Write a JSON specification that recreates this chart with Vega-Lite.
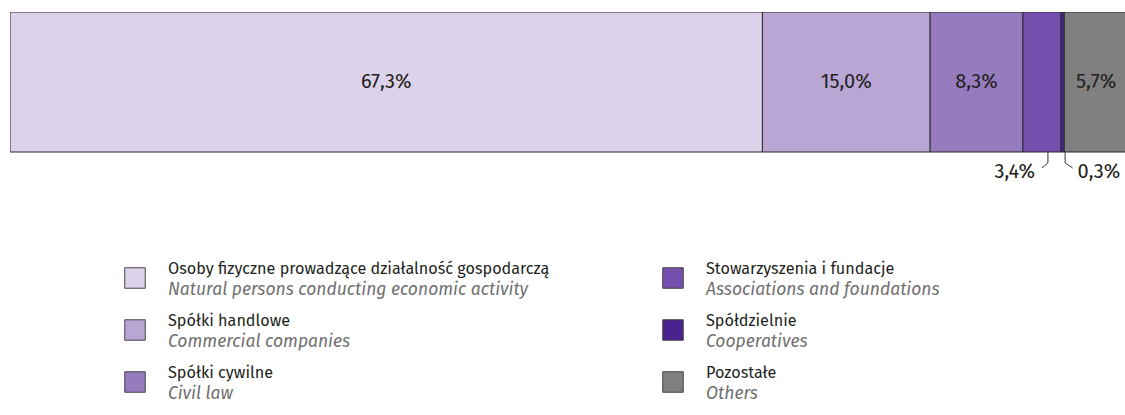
{
  "$schema": "https://vega.github.io/schema/vega-lite/v6.json",
  "padding": {"left": 10, "top": 12, "right": 0, "bottom": 0},
  "background": "white",
  "config": {"view": {"stroke": null}, "font": "Fira Sans, Roboto"},
  "bounds": "flush",
  "spacing": 63,
  "datasets": {
    "shares": [
      {"order": 1, "category": "Osoby fizyczne prowadzące działalność gospodarczą", "english": "Natural persons conducting economic activity", "share": 67.3, "label": "67,3%", "col": 1, "row": 1},
      {"order": 2, "category": "Spółki handlowe", "english": "Commercial companies", "share": 15.0, "label": "15,0%", "col": 1, "row": 2},
      {"order": 3, "category": "Spółki cywilne", "english": "Civil law", "share": 8.3, "label": "8,3%", "col": 1, "row": 3},
      {"order": 4, "category": "Stowarzyszenia i fundacje", "english": "Associations and foundations", "share": 3.4, "label": "3,4%", "col": 2, "row": 1},
      {"order": 5, "category": "Spółdzielnie", "english": "Cooperatives", "share": 0.3, "label": "0,3%", "col": 2, "row": 2},
      {"order": 6, "category": "Pozostałe", "english": "Others", "share": 5.7, "label": "5,7%", "col": 2, "row": 3}
    ]
  },
  "vconcat": [
    {
      "width": 1115,
      "height": 175,
      "data": {"name": "shares"},
      "transform": [
        {"stack": "share", "groupby": [], "sort": [{"field": "order", "order": "ascending"}], "as": ["v0", "v1"]},
        {"calculate": "(datum.v0 + datum.v1) / 2", "as": "mid"}
      ],
      "layer": [
        {
          "mark": {"type": "bar", "stroke": "#2b2b2b", "strokeWidth": 1, "clip": true},
          "encoding": {
            "x": {"field": "v0", "type": "quantitative", "scale": {"domain": [0, 99.73], "nice": false, "zero": false}, "axis": null},
            "x2": {"field": "v1"},
            "y": {"datum": 0, "type": "quantitative", "scale": {"domain": [-0.25, 1], "nice": false, "zero": false}, "axis": null},
            "y2": {"datum": 1},
            "color": {
              "field": "category", "type": "nominal", "legend": null,
              "scale": {
                "domain": ["Osoby fizyczne prowadzące działalność gospodarczą", "Spółki handlowe", "Spółki cywilne", "Stowarzyszenia i fundacje", "Spółdzielnie", "Pozostałe"],
                "range": ["#dcd3ea", "#b9a6d4", "#967bbe", "#744fae", "#4b2391", "#808080"]
              }
            }
          }
        },
        {
          "transform": [{"filter": "datum.share >= 5"}],
          "mark": {"type": "text", "fontSize": 20, "color": "#231f20", "baseline": "middle"},
          "encoding": {
            "x": {"field": "mid", "type": "quantitative"},
            "y": {"datum": 0.5, "type": "quantitative"},
            "text": {"field": "label"}
          }
        },
        {
          "transform": [{"filter": "datum.order == 4"}],
          "mark": {"type": "rule", "color": "#333", "strokeWidth": 1, "xOffset": 6},
          "encoding": {
            "x": {"field": "mid", "type": "quantitative"},
            "y": {"datum": 0, "type": "quantitative"},
            "y2": {"datum": -0.078}
          }
        },
        {
          "transform": [{"filter": "datum.order == 4"}],
          "mark": {"type": "rule", "color": "#333", "strokeWidth": 1, "xOffset": 6, "x2Offset": 0},
          "encoding": {
            "x": {"field": "mid", "type": "quantitative"},
            "x2": {"field": "mid"},
            "y": {"datum": -0.078, "type": "quantitative"},
            "y2": {"datum": -0.114}
          }
        },
        {
          "transform": [{"filter": "datum.order == 4"}],
          "mark": {"type": "text", "fontSize": 20, "color": "#231f20", "align": "right", "baseline": "middle", "xOffset": -7},
          "encoding": {
            "x": {"field": "mid", "type": "quantitative"},
            "y": {"datum": -0.143, "type": "quantitative"},
            "text": {"field": "label"}
          }
        },
        {
          "transform": [{"filter": "datum.order == 5"}],
          "mark": {"type": "rule", "color": "#333", "strokeWidth": 1, "xOffset": 2.5},
          "encoding": {
            "x": {"field": "mid", "type": "quantitative"},
            "y": {"datum": 0, "type": "quantitative"},
            "y2": {"datum": -0.078}
          }
        },
        {
          "transform": [{"filter": "datum.order == 5"}],
          "mark": {"type": "rule", "color": "#333", "strokeWidth": 1, "xOffset": 2.5, "x2Offset": 10},
          "encoding": {
            "x": {"field": "mid", "type": "quantitative"},
            "x2": {"field": "mid"},
            "y": {"datum": -0.078, "type": "quantitative"},
            "y2": {"datum": -0.114}
          }
        },
        {
          "transform": [{"filter": "datum.order == 5"}],
          "mark": {"type": "text", "fontSize": 20, "color": "#231f20", "align": "left", "baseline": "middle", "xOffset": 15},
          "encoding": {
            "x": {"field": "mid", "type": "quantitative"},
            "y": {"datum": -0.143, "type": "quantitative"},
            "text": {"field": "label"}
          }
        }
      ]
    },
    {
      "width": 1115,
      "height": 165,
      "data": {"name": "shares"},
      "encoding": {
        "x": {"field": "col", "type": "ordinal", "scale": {"type": "point", "padding": 0, "range": [125, 663]}, "axis": null},
        "y": {"field": "row", "type": "ordinal", "scale": {"type": "point", "padding": 0, "range": [28, 132]}, "axis": null}
      },
      "layer": [
        {
          "mark": {"type": "point", "shape": "square", "filled": true, "opacity": 1, "size": 420, "stroke": "#444", "strokeWidth": 1},
          "encoding": {
            "color": {
              "field": "category", "type": "nominal", "legend": null,
              "scale": {
                "domain": ["Osoby fizyczne prowadzące działalność gospodarczą", "Spółki handlowe", "Spółki cywilne", "Stowarzyszenia i fundacje", "Spółdzielnie", "Pozostałe"],
                "range": ["#dcd3ea", "#b9a6d4", "#967bbe", "#744fae", "#4b2391", "#808080"]
              }
            }
          }
        },
        {
          "mark": {"type": "text", "align": "left", "baseline": "alphabetic", "dx": 33, "dy": -4, "fontSize": 16.2, "color": "#231f20"},
          "encoding": {"text": {"field": "category"}}
        },
        {
          "mark": {"type": "text", "align": "left", "baseline": "alphabetic", "dx": 33, "dy": 17, "fontSize": 17.5, "fontStyle": "italic", "color": "#707070"},
          "encoding": {"text": {"field": "english"}}
        }
      ]
    }
  ]
}
